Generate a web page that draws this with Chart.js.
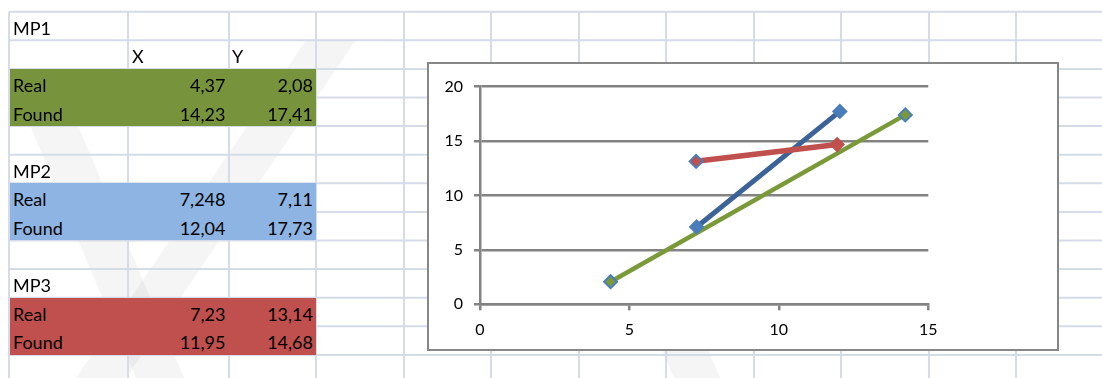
<!DOCTYPE html>
<html>
<head>
<meta charset="utf-8">
<script src="https://cdn.jsdelivr.net/npm/chart.js@4/dist/chart.umd.min.js"></script>
<style>
  html, body { margin: 0; padding: 0; background: #fff; }
  #sheet { position: relative; width: 1102px; height: 378px; overflow: hidden;
           font-family: Lato, "Open Sans", sans-serif; }
  #bg { position: absolute; left: 0; top: 0; }
  .fill { position: absolute; }
  .cell { position: absolute; font-size: 18px; color: #000; white-space: nowrap; line-height: 20px; }
  .num { text-align: right; }
  #frame { position: absolute; left: 427px; top: 62px; width: 632px; height: 289px;
           box-sizing: border-box; border: 2px solid #878787; background: #fff; }
  #frame canvas { display: block; }
</style>
</head>
<body>
<div id="sheet">
  <canvas id="bg" width="1102" height="378"></canvas>
  <div id="frame"><canvas id="chart" width="628" height="285"></canvas></div>
</div>
<script>
// Measurement points: each block holds a real and a found (x, y) position
const blocks   = ['MP1', 'MP2', 'MP3'];
const rowNames = ['Real', 'Found'];
const colNames = ['X', 'Y'];
const realX  = [4.37, 7.248, 7.23];
const realY  = [2.08, 7.11, 13.14];
const foundX = [14.23, 12.04, 11.95];
const foundY = [17.41, 17.73, 14.68];
const xTicks = [0, 5, 10, 15];
const yTicks = [0, 5, 10, 15, 20];

// Styling
const cellFills   = ['#77933c', '#8db4e2', '#c0504d'];
const lineColors  = ['#7a9a3a', '#3b6397', '#c0504d'];
const lineWidths  = [4.5, 5, 5.5];
const markerFills = ['#7a9a3a', '#4a7ebb', '#c0504d'];
const markerEdges = ['#4a7ebb', '#4a7ebb', ['#4a7ebb', '#c0504d']];

// Worksheet geometry
const ROW_TOP = 11.7, ROW_H = 28.6;
const colLines = [9, 128, 229, 316, 404, 491, 579, 666, 754, 841, 929, 1016];
const rowY = k => ROW_TOP + ROW_H * k;

const sheet = document.getElementById('sheet');
const bg = document.getElementById('bg').getContext('2d');
bg.fillStyle = '#fff';
bg.fillRect(0, 0, 1102, 378);

// faint diagonal watermark bands behind the cells
function band(x0, y0, x1, y1, w) {
  bg.beginPath();
  bg.moveTo(x0 - w / 2, y0); bg.lineTo(x0 + w / 2, y0);
  bg.lineTo(x1 + w / 2, y1); bg.lineTo(x1 - w / 2, y1);
  bg.closePath(); bg.fill();
}
bg.fillStyle = 'rgba(0,0,0,0.04)';
band(35, 80, 160, 378, 48);
band(331, 40, 101, 378, 50);
band(664, 300, 697, 378, 46);

// spreadsheet gridlines
bg.strokeStyle = '#d5dce8';
bg.lineWidth = 2;
for (let k = 0; rowY(k) < 380; k++) {
  bg.beginPath(); bg.moveTo(colLines[0], rowY(k)); bg.lineTo(1102, rowY(k)); bg.stroke();
}
colLines.forEach(x => {
  bg.beginPath(); bg.moveTo(x, ROW_TOP); bg.lineTo(x, 378); bg.stroke();
});

function addFill(k0, rows, color) {
  const d = document.createElement('div');
  d.className = 'fill';
  Object.assign(d.style, { left: '10px', top: rowY(k0) + 'px', width: '306px',
    height: (ROW_H * rows) + 'px', background: color });
  sheet.insertBefore(d, document.getElementById('frame'));
}
function addText(text, k, x, rightEdge) {
  const d = document.createElement('div');
  d.className = 'cell' + (rightEdge ? ' num' : '');
  d.textContent = text;
  d.style.top = (rowY(k) + 6) + 'px';
  if (rightEdge) { d.style.left = (x - 120) + 'px'; d.style.width = '120px'; }
  else d.style.left = x + 'px';
  sheet.insertBefore(d, document.getElementById('frame'));
}
const fmt = v => String(v).replace('.', ',');

// block layout: title row, optional header row, two data rows, blank row
let k = 0;
blocks.forEach((name, i) => {
  addText(name, k, 13, false);
  k++;
  if (i === 0) {
    addText(colNames[0], k, 132, false);
    addText(colNames[1], k, 232, false);
    k++;
  }
  addFill(k, 2, cellFills[i]);
  addText(rowNames[0], k, 13, false);
  addText(fmt(realX[i]), k, 225.5, true);
  addText(fmt(realY[i]), k, 313, true);
  addText(rowNames[1], k + 1, 13, false);
  addText(fmt(foundX[i]), k + 1, 225.5, true);
  addText(fmt(foundY[i]), k + 1, 313, true);
  k += 3;
});

// scatter chart with straight connecting lines
const tickFont = { family: 'Lato', size: 16 };
const axisGray = '#838383';
new Chart(document.getElementById('chart'), {
  type: 'scatter',
  data: {
    datasets: blocks.map((name, i) => ({
      label: name,
      data: [{ x: realX[i], y: realY[i] }, { x: foundX[i], y: foundY[i] }],
      showLine: true,
      tension: 0,
      borderColor: lineColors[i],
      borderWidth: lineWidths[i],
      pointStyle: 'rectRot',
      pointRadius: 6.5,
      pointBorderWidth: 2,
      pointBackgroundColor: markerFills[i],
      pointBorderColor: markerEdges[i],
      order: blocks.length - 1 - i
    }))
  },
  options: {
    responsive: false,
    animation: false,
    devicePixelRatio: 1,
    layout: { padding: { top: 22.7, right: 128.7, left: 0, bottom: 0 } },
    plugins: { legend: { display: false }, tooltip: { enabled: false } },
    scales: {
      x: {
        type: 'linear', min: xTicks[0], max: xTicks[xTicks.length - 1],
        afterBuildTicks: s => { s.ticks = xTicks.map(v => ({ value: v })); },
        afterFit: s => { s.height = 44.7; },
        ticks: { padding: 10, color: '#000', font: tickFont, maxRotation: 0 },
        grid: { drawOnChartArea: false, drawTicks: true, tickLength: 6, color: axisGray, lineWidth: 2.5 },
        border: { display: true, color: axisGray, width: 2.5 }
      },
      y: {
        type: 'linear', min: yTicks[0], max: yTicks[yTicks.length - 1],
        afterBuildTicks: s => { s.ticks = yTicks.map(v => ({ value: v })); },
        afterFit: s => { s.width = 51; },
        ticks: { padding: 11, color: '#000', font: tickFont },
        grid: { drawTicks: true, tickLength: 6, color: axisGray, lineWidth: 2.5 },
        border: { display: true, color: axisGray, width: 2.5 }
      }
    }
  }
});
</script>
</body>
</html>
